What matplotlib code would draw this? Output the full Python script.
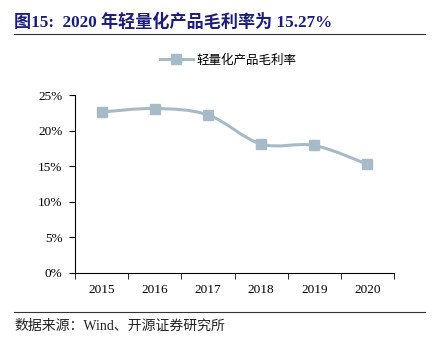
import numpy as np
import matplotlib
matplotlib.use("Agg")
import matplotlib.pyplot as plt
from matplotlib.path import Path
from matplotlib.patches import PathPatch
from matplotlib.lines import Line2D

# ─── Data ─────────────────────────────────────────────────────────────────────
years = ["2015", "2016", "2017", "2018", "2019", "2020"]
margin = [22.6, 23.1, 22.2, 18.1, 17.9, 15.27]
yticks = [0, 5, 10, 15, 20, 25]
ytick_labels = ["0%", "5%", "10%", "15%", "20%", "25%"]

LINE = "#a6bbc7"
NAVY = "#1c1c7c"
SERIF_CJK = ["Liberation Serif", "Noto Sans CJK SC"]


def smooth_path(xs, ys):
    # Catmull-Rom -> cubic bezier, same idea as Excel's smoothed line
    pts = np.column_stack([xs, ys]).astype(float)
    verts = [pts[0]]
    codes = [Path.MOVETO]
    n = len(pts)
    for i in range(n - 1):
        p0 = pts[i - 1] if i > 0 else pts[i]
        p1 = pts[i]
        p2 = pts[i + 1]
        p3 = pts[i + 2] if i + 2 < n else pts[i + 1]
        c1 = p1 + (p2 - p0) / 6
        c2 = p2 - (p3 - p1) / 6
        verts += [c1, c2, p2]
        codes += [Path.CURVE4] * 3
    return Path(verts, codes)


fig = plt.figure(figsize=(4.4, 3.42), dpi=100)
ax = fig.add_axes([0.1705, 0.2026, 0.725, 0.5196])

x = np.arange(len(years))
ax.add_patch(PathPatch(smooth_path(x, margin), fill=False, edgecolor=LINE, lw=2.2, zorder=2))
ax.plot(x, margin, ls="none", marker="s", ms=7, color=LINE, zorder=3)

ax.set_xlim(-0.5, len(years) - 0.5)
ax.set_ylim(0, 25)
ax.set_yticks(yticks)
ax.set_yticklabels(ytick_labels, family="Liberation Serif", fontsize=9.5)
ax.set_xticks(x)
ax.set_xticklabels(years, family="Liberation Serif", fontsize=9.5)
ax.set_xticks(np.arange(-0.5, len(years)), minor=True)
ax.tick_params(axis="x", which="major", length=0, pad=8)
ax.tick_params(axis="x", which="minor", length=4, direction="out")
ax.tick_params(axis="y", length=4, direction="out", pad=5)
for s in ["top", "right"]:
    ax.spines[s].set_visible(False)
for s in ["left", "bottom"]:
    ax.spines[s].set_linewidth(0.8)

# legend
leg_handle = Line2D([], [], color=LINE, lw=2.2, marker="s", ms=7)
ax.legend([leg_handle], ["轻量化产品毛利率"], loc="center", bbox_to_anchor=(0.48, 1.197),
          frameon=False, prop={"family": "Noto Sans CJK SC", "size": 9},
          handlelength=2.6, handletextpad=0.3)

# title & footer
fig.text(0.032, 0.935, "图15:  2020 年轻量化产品毛利率为 15.27%", family=SERIF_CJK,
         fontsize=12.3, fontweight="bold", color=NAVY, va="center")
fig.add_artist(Line2D([0.032, 0.966], [0.90, 0.90], color="#333333", lw=0.8))
fig.add_artist(Line2D([0.032, 0.966], [0.088, 0.088], color="#333333", lw=0.8))
fig.text(0.032, 0.047, "数据来源：Wind、开源证券研究所", family=SERIF_CJK,
         fontsize=10, color="#222222", va="center")

fig.savefig("out.png", dpi=100)
